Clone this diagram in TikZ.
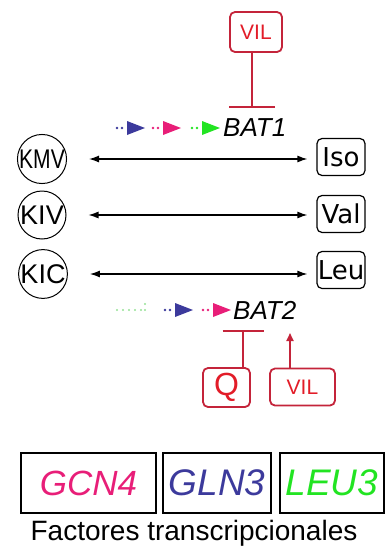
\documentclass[tikz,border=0pt]{standalone}
\usepackage{fontspec}
\setmainfont{Liberation Sans}
\newfontfamily\boxfont{DejaVu Sans}
\usetikzlibrary{arrows.meta}
\definecolor{regred}{RGB}{196,36,58}
\definecolor{regtext}{RGB}{226,28,40}
\definecolor{tfpink}{RGB}{232,30,120}
\definecolor{tfblue}{RGB}{60,58,156}
\definecolor{tfgreen}{RGB}{34,228,34}
\definecolor{palegreen}{RGB}{150,225,150}
\newcommand{\fs}[1]{\fontsize{#1}{#1}\selectfont}
% dotted lead-in followed by a solid triangle pointing right
\newcommand{\promoter}[3]{%
  \fill[#1] (#2,#3) circle (1.4) (#2+5,#3) circle (1.4);
  \fill[#1] (#2+10,#3-7) -- (#2+28,#3) -- (#2+10,#3+7) -- cycle;}
\tikzset{
  regbox/.style={draw=regred, line width=1.8pt, rounded corners=5pt, text=regtext,
    inner sep=0pt},
  keto/.style={draw, circle, line width=1pt, minimum size=48pt, inner sep=0pt,
    font=\fs{27}},
  aabox/.style={draw, line width=1.2pt, rounded corners=5pt, minimum width=48pt,
    minimum height=37pt, inner sep=0pt, font=\boxfont\fs{26}},
  tfbox/.style={draw, line width=1.2pt, minimum height=60pt, inner sep=0pt,
    font=\itshape\fs{37}},
  transam/.style={{Latex[length=10pt,width=7pt]}-{Latex[length=10pt,width=7pt]},
    line width=1.2pt, shorten <=22pt, shorten >=9pt},
  gene/.style={anchor=west, inner sep=0pt, font=\itshape\fs{26}},
  inhib/.style={draw=regred, line width=1.8pt},
}
\begin{document}
\begin{tikzpicture}[x=1pt,y=-1pt]
\useasboundingbox (0,0) rectangle (385,552);

% BAT1 and its repression by VIL
\node[regbox, minimum width=52pt, minimum height=40pt, font=\fs{21}] (vilT) at (256,32) {VIL};
\promoter{tfblue}{117}{128}
\promoter{tfpink}{153}{128}
\promoter{tfgreen}{192}{128}
\node[gene] (bat1) at (223,128) {BAT1};
\coordinate (bar1) at (252,108);
\draw[inhib, -{Bar[width=46pt]}] (vilT.south -| bar1) -- (bar1);

% keto acids and amino acids
\node[keto] (kmv) at (42,159) {\scalebox{0.78}[1]{KMV}};
\node[keto] (kiv) at (42,215) {KIV};
\node[keto] (kic) at (43,274) {KIC};
\node[aabox] (iso) at (341,157) {Iso};
\node[aabox] (val) at (341,214) {Val};
\node[aabox] (leu) at (341,270) {Leu};
\draw[transam] (kmv) -- (kmv -| iso.west);
\draw[transam] (kiv) -- (kiv -| val.west);
\draw[transam] (kic) -- (kic -| leu.west);

% BAT2 with repression by Q and activation by VIL
\foreach \x in {117,123,129,135,141} \fill[palegreen] (\x,310) circle (1.1);
\fill[palegreen] (145,304) circle (1.1) (145,310) circle (1.1);
\promoter{tfblue}{165}{310}
\promoter{tfpink}{203}{310}
\node[gene] (bat2) at (233,310) {BAT2};
\node[regbox, minimum width=47pt, minimum height=39pt, font=\fs{32}] (q) at (226.5,387.5) {Q};
\node[regbox, minimum width=65pt, minimum height=37pt, font=\fs{21}] (vilB) at (302.5,387) {VIL};
\coordinate (bar2) at (243,330);
\coordinate (act) at (290,333);
\draw[inhib, -{Bar[width=41pt]}] (q.north -| bar2) -- (bar2);
\draw[inhib, -{Triangle[length=8pt,width=7pt]}] (vilB.north -| act) -- (act);

% transcription factors
\node[tfbox, minimum width=135pt, text=tfpink] (gcn4) at (88.5,483) {\fs{35}GCN4};
\node[tfbox, minimum width=108pt, text=tfblue] (gln3) at (217,483) {GLN3};
\node[tfbox, minimum width=104pt, text=tfgreen] (leu3) at (332,483) {LEU3};
\node[font=\fs{28}, anchor=base] (tf) at (194,540) {Factores transcripcionales};
\end{tikzpicture}
\end{document}
